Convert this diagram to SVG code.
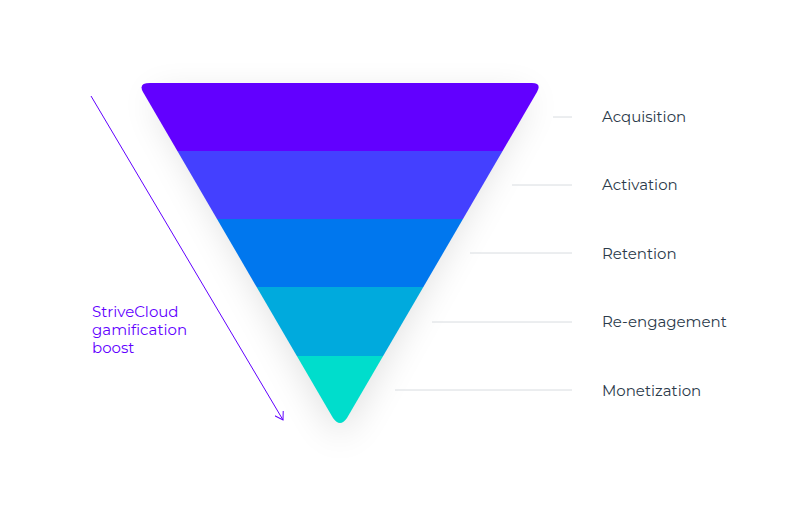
<svg xmlns="http://www.w3.org/2000/svg" width="800" height="505" viewBox="0 0 800 505">
<defs>
<style>
.lbl{font-family:Montserrat,"Noto Sans","Liberation Sans",sans-serif;font-size:15px;fill:#2b3a4a}
.side{font-family:Montserrat,"Noto Sans","Liberation Sans",sans-serif;font-size:15px;fill:#6200ff}
.tick{stroke:#d8dce0;stroke-width:1}
</style>
<clipPath id="fc"><path d="M150,83 L532,83 Q542,83 537,92 L347,418 Q340,428 333,418 L143,92 Q138,83 150,83 Z"/></clipPath>
<filter id="sh" x="-30%" y="-30%" width="160%" height="160%"><feGaussianBlur stdDeviation="18"/></filter>
<marker id="ah" markerWidth="10" markerHeight="10" refX="8" refY="5" orient="auto" markerUnits="userSpaceOnUse"><path d="M0,0 L8,5 L0,10" fill="none" stroke="#6200ff" stroke-width="1"/></marker>
</defs>
<rect width="800" height="505" fill="#fff"/>
<path d="M150,95 L532,95 L340,440 Z" fill="#000" opacity="0.12" filter="url(#sh)"/>
<g id="funnel" clip-path="url(#fc)">
<rect id="n1" x="130" y="80" width="420" height="71" fill="#6200ff"/>
<rect id="n2" x="130" y="151" width="420" height="68" fill="#4440ff"/>
<rect id="n3" x="130" y="219" width="420" height="68" fill="#0077ee"/>
<rect id="n4" x="130" y="287" width="420" height="69" fill="#00aadd"/>
<rect id="n5" x="130" y="356" width="420" height="75" fill="#00ddcc"/>
</g>
<g id="connectors">
<line class="tick" x1="553" y1="117" x2="572" y2="117"/>
<line class="tick" x1="512" y1="185" x2="572" y2="185"/>
<line class="tick" x1="470" y1="253" x2="572" y2="253"/>
<line class="tick" x1="432" y1="322" x2="572" y2="322"/>
<line class="tick" x1="395" y1="390" x2="572" y2="390"/>
<line x1="91" y1="96" x2="283" y2="420" stroke="#6200ff" stroke-width="1" marker-end="url(#ah)"/>
</g>
<g id="labels">
<text class="lbl" x="602" y="122">Acquisition</text>
<text class="lbl" x="602" y="190">Activation</text>
<text class="lbl" x="602" y="259">Retention</text>
<text class="lbl" x="602" y="327">Re-engagement</text>
<text class="lbl" x="602" y="396">Monetization</text>
<text class="side" x="92" y="317">StriveCloud</text>
<text class="side" x="92" y="335">gamification</text>
<text class="side" x="92" y="353">boost</text>
</g>
</svg>
